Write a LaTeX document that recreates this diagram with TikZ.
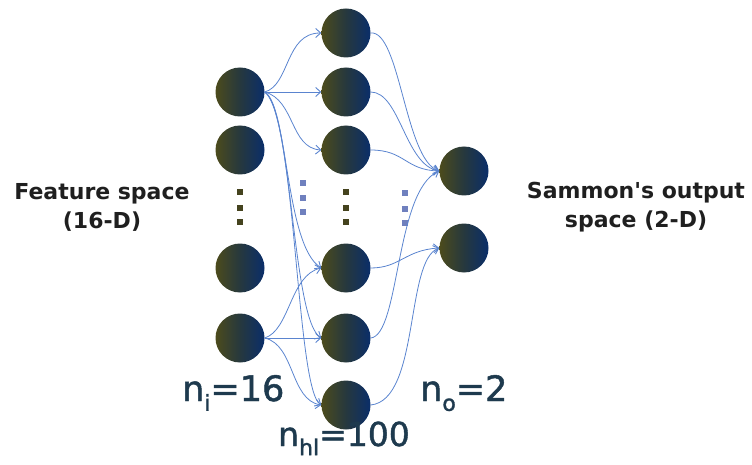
\documentclass[tikz,border=0pt]{standalone}
\usepackage{fontspec}
\setmainfont{DejaVu Sans}
\newfontfamily\numfont[FakeBold=1.4]{DejaVu Sans}
\usetikzlibrary{arrows.meta}
\definecolor{olv}{HTML}{4C4B1C}
\definecolor{nvy}{HTML}{0A2E6A}
\definecolor{mid}{HTML}{26383E}
\definecolor{lnk}{HTML}{5A84CF}
\definecolor{bdot}{HTML}{6F80BE}
\definecolor{odot}{HTML}{45431E}
\definecolor{lbl}{HTML}{1E3A4E}
\tikzset{
  neuron/.style={circle,minimum size=49pt,inner sep=0pt,left color=olv,right color=nvy,middle color=mid},
  link/.style={draw=lnk,line width=0.8pt},
  arr/.style={link,-{Straight Barb[length=5pt,width=9pt,line width=0.9pt]}},
  odotst/.style={rectangle,fill=odot,minimum size=6pt,inner sep=0pt},
  bdotst/.style={rectangle,fill=bdot,minimum size=6pt,inner sep=0pt},
  sidetxt/.style={font=\fontsize{22}{29}\selectfont\bfseries,text=black!88,align=center},
  nlabel/.style={font=\numfont\fontsize{35}{40}\selectfont,text=lbl,anchor=base west,inner sep=0pt}
}
\newcommand{\lowsub}[1]{\raisebox{-0.28em}{\fontsize{22}{22}\selectfont #1}}
\begin{document}
\begin{tikzpicture}[x=1pt,y=-1pt]
\useasboundingbox (0,0) rectangle (752,465);
% input layer
\node[neuron] (i1) at (240,92) {};
\node[neuron] (i2) at (240,150) {};
\node[neuron] (i3) at (240,268) {};
\node[neuron] (i4) at (240,338) {};
% hidden layer
\node[neuron] (h1) at (346,33) {};
\node[neuron] (h2) at (346,92) {};
\node[neuron] (h3) at (346,150) {};
\node[neuron] (h4) at (346,268) {};
\node[neuron] (h5) at (346,338) {};
\node[neuron] (h6) at (346,405) {};
% output layer
\node[neuron] (o1) at (464,171) {};
\node[neuron] (o2) at (464,248) {};
% dots
\node[odotst] (d1) at (240,192) {};
\node[odotst] (d2) at (240,208) {};
\node[odotst] (d3) at (240,222) {};
\node[odotst] (d4) at (346,192) {};
\node[odotst] (d5) at (346,208) {};
\node[odotst] (d6) at (346,222) {};
\node[bdotst] (b1) at (303,183) {};
\node[bdotst] (b2) at (303,198) {};
\node[bdotst] (b3) at (303,212) {};
\node[bdotst] (b4) at (405,193) {};
\node[bdotst] (b5) at (405,209) {};
\node[bdotst] (b6) at (405,223) {};
% input -> hidden
\draw[arr] (i1.east) .. controls (290,85) and (285,33) .. (h1.west);
\draw[arr] (i1.east) -- (h2.west);
\draw[arr] (i1.east) .. controls (295,100) and (290,148) .. (h3.west);
\draw[arr] (i1.east) .. controls (288,105) and (285,245) .. (h4.west);
\draw[arr] (i1.east) .. controls (292,110) and (292,320) .. (h5.west);
\draw[arr] (i1.east) .. controls (296,115) and (296,390) .. (h6.west);
\draw[arr] (i4.east) .. controls (290,330) and (290,275) .. (h4.west);
\draw[arr] (i4.east) -- (h5.west);
\draw[arr] (i4.east) .. controls (295,345) and (290,400) .. (h6.west);
% hidden -> output
\draw[arr] (h1.east) .. controls (400,30) and (405,160) .. (o1.west);
\draw[arr] (h2.east) .. controls (400,92) and (405,165) .. (o1.west);
\draw[arr] (h3.east) .. controls (405,150) and (405,170) .. (o1.west);
\draw[arr] (h5.east) .. controls (400,335) and (395,190) .. (o1.west);
\draw[arr] (h4.east) .. controls (400,268) and (405,250) .. (o2.west);
\draw[arr] (h6.east) .. controls (420,400) and (405,260) .. (o2.west);
% side texts
\node[sidetxt] (ft) at (102,207) {Feature space\\(16-D)};
\node[sidetxt] (st) at (636,207) {Sammon\textquotesingle s output\\space (2-D)};
% counts
\node[nlabel] (ni) at (182,401) {n\lowsub{i}=16};
\node[nlabel] (no) at (420,401) {n\lowsub{o}=2};
\node[nlabel,font=\numfont\fontsize{33}{38}\selectfont] (nh) at (278,446) {n\lowsub{hl}=100};
\end{tikzpicture}
\end{document}
